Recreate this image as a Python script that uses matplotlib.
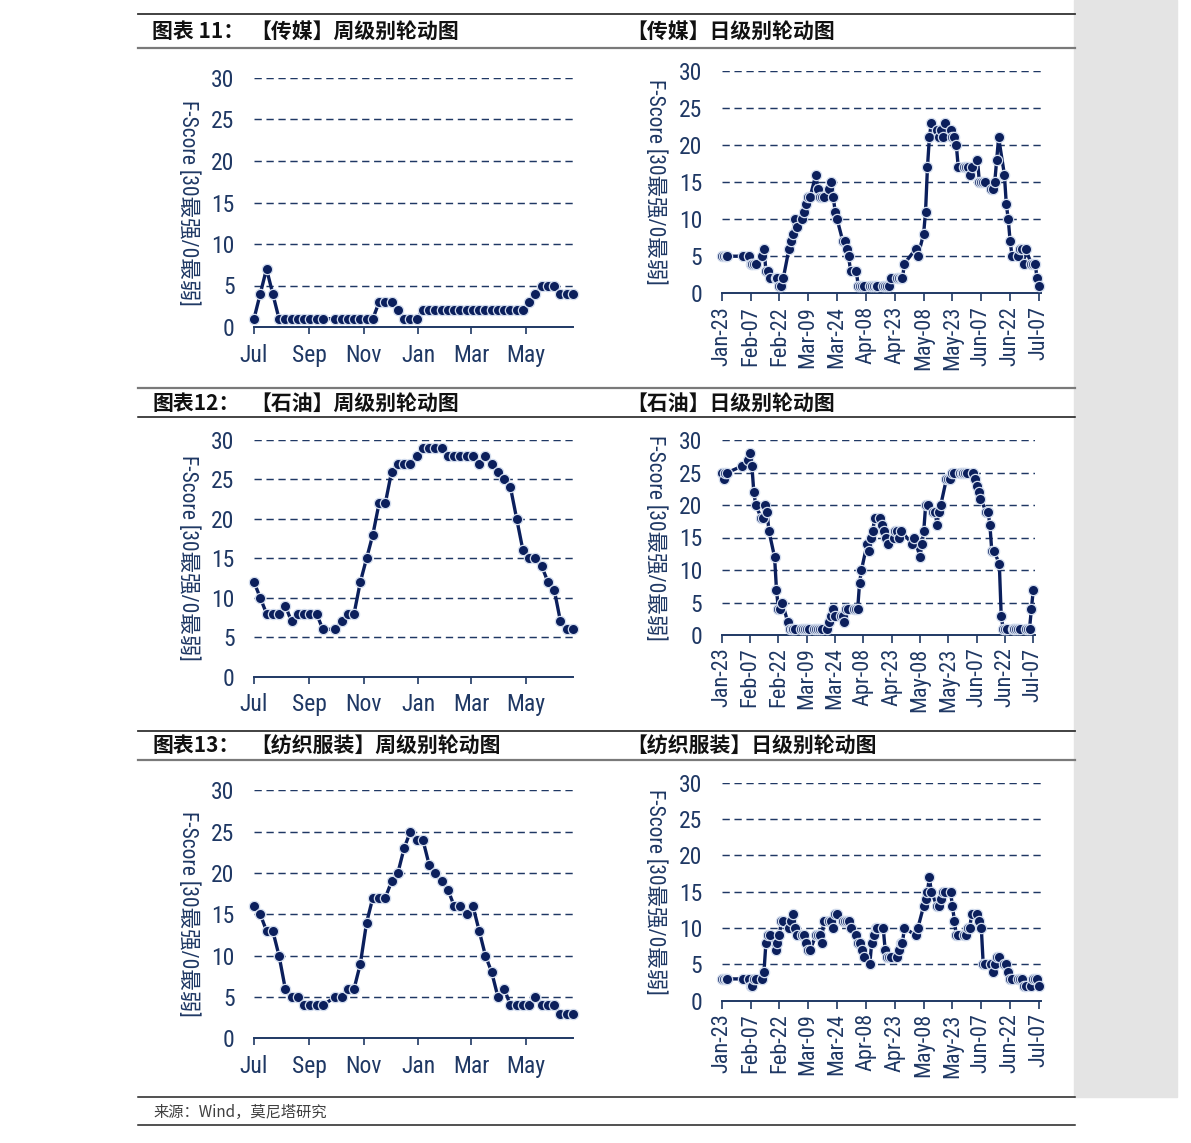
import matplotlib
matplotlib.use('Agg')
import matplotlib.pyplot as plt
import pandas as pd
from matplotlib import font_manager as fm
from matplotlib.lines import Line2D
from matplotlib.patches import Rectangle

# ---------------- data ----------------
weekly_start = '2022-07-01'
weekly_missing_slot = 12
media_weekly = [1, 4, 7, 4, 1, 1, 1, 1, 1, 1, 1, 1,
                1, 1, 1, 1, 1, 1, 1, 3, 3, 3, 2, 1, 1, 1,
                2, 2, 2, 2, 2, 2, 2, 2, 2, 2, 2, 2, 2, 2, 2, 2, 2,
                3, 4, 5, 5, 5, 4, 4, 4]
oil_weekly = [12, 10, 8, 8, 8, 9, 7, 8, 8, 8, 8, 6,
              6, 7, 8, 8, 12, 15, 18, 22, 22, 26, 27, 27, 27, 28, 29, 29, 29, 29,
              28, 28, 28, 28, 28, 27, 28, 27, 26, 25, 24, 20, 16, 15, 15, 14, 12, 11, 7, 6, 6]
textile_weekly = [16, 15, 13, 13, 10, 6, 5, 5, 4, 4, 4, 4,
                  5, 5, 6, 6, 9, 14, 17, 17, 17, 19, 20, 23, 25, 24, 24, 21, 20, 19, 18,
                  16, 16, 15, 16, 13, 10, 8, 5, 6, 4, 4, 4, 4, 5, 4, 4, 4, 3, 3, 3]
weekly_tick_dates = ['2022-07-01', '2022-09-01', '2022-11-01', '2023-01-01', '2023-03-01', '2023-05-01']
weekly_tick_labels = ['Jul', 'Sep', 'Nov', 'Jan', 'Mar', 'May']

daily_start, daily_end = '2023-01-23', '2023-07-07'
daily_closed = ['2023-01-27', '2023-01-30', '2023-01-31', '2023-02-01', '2023-02-02',
                '2023-05-01', '2023-05-02', '2023-05-03']
media_daily = [5, 5, 5, 5, 5,
               5, 4, 4, 4, 4, 5, 6, 3, 3, 2, 2, 2, 1, 1, 2, 6, 7, 8, 10, 9,
               10, 11, 12, 13, 13, 16, 14, 13, 13, 13, 14, 15, 13, 11, 10, 7, 7, 6, 5, 3,
               3, 1, 1, 1, 1, 1, 1, 1, 1, 1, 1, 1, 1, 1, 2, 2, 2, 2, 2, 4,
               6, 5,
               8, 11, 17, 21, 23, 22, 21, 22, 21, 23, 22, 21, 21, 20, 17, 17, 17, 17, 16, 17,
               18, 15, 15, 15, 15, 14, 14, 15, 18, 21, 16, 12, 10, 7, 5, 5, 6, 6, 4, 6,
               4, 4, 4, 2, 1]
oil_daily = [25, 24, 25, 25, 26,
             27, 28, 26, 22, 20, 18, 18, 20, 19, 16, 12, 7, 4, 4, 5, 2, 1, 1, 1, 1,
             1, 1, 1, 1, 1, 1, 1, 1, 1, 1, 1, 2, 3, 4, 3, 3, 3, 2, 4, 4,
             4, 4, 4, 8, 10, 14, 13, 15, 16, 18, 18, 17, 16, 15, 14, 15, 16, 16, 15, 16,
             14, 15,
             12, 14, 16, 20, 20, 19, 19, 17, 19, 20, 24, 24, 24, 25, 25, 25, 25, 25, 25, 25,
             25, 24, 23, 22, 21, 19, 19, 17, 13, 13, 11, 3, 1, 1, 1, 1, 1, 1, 1, 1,
             1, 1, 1, 4, 7]
textile_daily = [3, 3, 3, 3, 3,
                 3, 2, 2, 3, 3, 3, 4, 8, 9, 9, 7, 8, 9, 11, 11, 10, 11, 12, 10, 9,
                 9, 9, 8, 7, 7, 9, 9, 9, 8, 11, 11, 11, 10, 12, 12, 11, 11, 11, 11, 10,
                 9, 8, 8, 7, 6, 5, 8, 9, 10, 10, 10, 7, 6, 6, 6, 6, 7, 8, 8, 10,
                 9, 10,
                 13, 14, 15, 17, 15, 13, 13, 14, 15, 15, 15, 13, 11, 9, 9, 9, 9, 10, 10, 12,
                 12, 11, 10, 5, 5, 5, 4, 5, 6, 6, 5, 5, 4, 3, 3, 3, 3, 3, 2, 2,
                 2, 3, 3, 3, 2]
daily_tick_dates = ['2023-01-23', '2023-02-07', '2023-02-22', '2023-03-09', '2023-03-24', '2023-04-08',
                    '2023-04-23', '2023-05-08', '2023-05-23', '2023-06-07', '2023-06-22', '2023-07-07']
daily_tick_labels = ['Jan-23', 'Feb-07', 'Feb-22', 'Mar-09', 'Mar-24', 'Apr-08',
                     'Apr-23', 'May-08', 'May-23', 'Jun-07', 'Jun-22', 'Jul-07']
yticks = [0, 5, 10, 15, 20, 25, 30]
ylabel = 'F-Score [30最强/0最弱]'

left_titles = [('图表 11：', '【传媒】周级别轮动图'), ('图表12：', '【石油】周级别轮动图'),
               ('图表13：', '【纺织服装】周级别轮动图')]
right_titles = ['【传媒】日级别轮动图', '【石油】日级别轮动图', '【纺织服装】日级别轮动图']
source = '来源：Wind，莫尼塔研究'

# ---------------- style ----------------
names = {f.name for f in fm.fontManager.ttflist}
NUM_FONT = next((n for n in ['Liberation Sans Narrow', 'Roboto Condensed', 'Liberation Sans']
                 if n in names), 'DejaVu Sans')
NARROW = NUM_FONT != 'Liberation Sans' and NUM_FONT != 'DejaVu Sans'
CJK = 'Noto Sans CJK SC'
plt.rcParams['font.family'] = [NUM_FONT, CJK, 'DejaVu Sans']

NAVY = '#1f3864'
DOT = '#0b1f5c'
EDGE = '#d3ddee'
TICKSIZE = 17 if NARROW else 14

W, H = 1191, 1143
fig = plt.figure(figsize=(W / 100, H / 100), dpi=100)


def rect(l, r, y0, y30):
    return [l / W, 1 - y0 / H, (r - l) / W, (y0 - y30) / H]


def style(ax, label_x):
    ax.set_ylim(0, 30)
    ax.set_yticks(yticks)
    ax.patch.set_alpha(0)
    for s in ['top', 'right', 'left']:
        ax.spines[s].set_visible(False)
    ax.spines['bottom'].set_color(NAVY)
    ax.spines['bottom'].set_linewidth(1.4)
    ax.tick_params(axis='y', length=0, pad=14, labelsize=TICKSIZE, labelcolor=NAVY)
    ax.tick_params(axis='x', length=5, width=1.2, color=NAVY, direction='out',
                   labelcolor=NAVY)
    for v in yticks[1:]:
        ax.axhline(v, color=NAVY, lw=1.05, ls=(0, (5, 3.2)), zorder=1)
    ax.text(label_x, 0.5, ylabel, rotation=270, ha='center', va='center',
            transform=ax.transAxes, color=NAVY, fontsize=15.5 if NARROW else 13)


def draw(ax, x, y):
    ax.plot(x, y, color=DOT, lw=2.4, marker='o', ms=7.4, mfc=DOT, mec=EDGE, mew=0.9,
            clip_on=False, zorder=3, solid_joinstyle='round')


weekly_dates = pd.date_range(weekly_start, periods=52, freq='7D').delete(weekly_missing_slot)
daily_dates = pd.bdate_range(daily_start, daily_end).difference(pd.to_datetime(daily_closed))

weekly_rows = [(media_weekly, 327, 78), (oil_weekly, 676.7, 440), (textile_weekly, 1038.3, 790.3)]
daily_rows = [(media_daily, 1039, 293.3, 70.7), (oil_daily, 1033.3, 635, 440),
              (textile_daily, 1039, 1000.7, 782.7)]

for vals, y0, y30 in weekly_rows:
    ax = fig.add_axes(rect(254, 573, y0, y30))
    style(ax, (188.3 - 254) / 319)
    draw(ax, weekly_dates, vals)
    ax.set_xlim(weekly_dates[0], weekly_dates[-1])
    ax.set_xticks(pd.to_datetime(weekly_tick_dates))
    ax.set_xticklabels(weekly_tick_labels, fontsize=TICKSIZE)
    ax.tick_params(axis='x', pad=7)

for vals, xr, y0, y30 in daily_rows:
    ppd = (xr - 721.7) / 165
    ax = fig.add_axes(rect(721.7, xr + ppd, y0, y30))
    style(ax, (655 - 721.7) / (xr + ppd - 721.7))
    draw(ax, daily_dates, vals)
    ax.set_xlim(pd.Timestamp(daily_start), pd.Timestamp(daily_end) + pd.Timedelta(days=1))
    ax.set_xticks(pd.to_datetime(daily_tick_dates))
    ax.set_xticklabels(daily_tick_labels, rotation=90, fontsize=TICKSIZE - 1)
    ax.tick_params(axis='x', length=6, pad=3)

# ---------------- frame ----------------
fig.patches.append(Rectangle((1074 / W, 1 - 1097 / H), 103 / W, 1097 / H,
                             transform=fig.transFigure, color='#e4e4e4', zorder=0))


def hline(y, color, lw):
    fig.add_artist(Line2D([138 / W, 1075 / W], [1 - y / H, 1 - y / H], color=color, lw=lw,
                          transform=fig.transFigure))


for y, c, lw in [(14, '#333333', 1.3), (47.5, '#7a7a7a', 1.6), (388, '#7a7a7a', 1.6),
                 (417, '#111111', 1.1), (731, '#333333', 1.3), (760, '#7a7a7a', 1.6),
                 (1097, '#222222', 1.1), (1125, '#222222', 1.1)]:
    hline(y, c, lw)

title_y = [31.5, 403.5, 746]
for (a, b), r, ty in zip(left_titles, right_titles, title_y):
    fig.text(152 / W, 1 - ty / H, a, family=[CJK], fontsize=15, weight='bold',
             va='center', ha='left', color='#111111')
    fig.text(250 / W, 1 - ty / H, b, family=[CJK], fontsize=15, weight='bold',
             va='center', ha='left', color='#111111')
    fig.text(626 / W, 1 - ty / H, r, family=[CJK], fontsize=15, weight='bold',
             va='center', ha='left', color='#111111')

fig.text(153 / W, 1 - 1112 / H, source, family=[CJK], fontsize=11, va='center',
         ha='left', color='#404040')

fig.savefig('out.png', dpi=100)
